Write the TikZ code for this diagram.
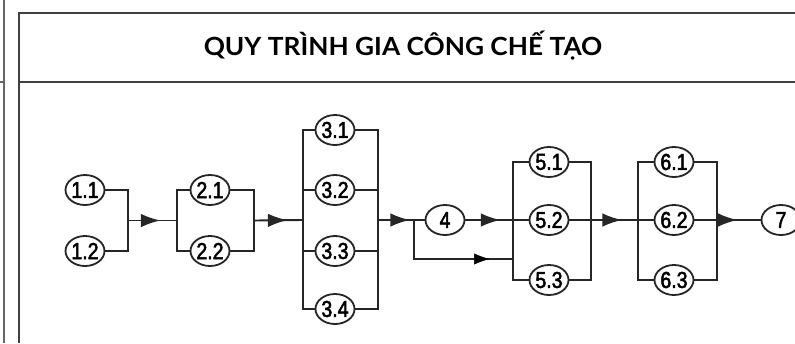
\documentclass[tikz,border=0pt]{standalone}
\usepackage{fontspec}
\setmainfont{Liberation Sans}
\newfontfamily\numfont[FakeBold=2.5]{Liberation Sans}
\newfontfamily\titlefont{Lato}
\usetikzlibrary{shapes.geometric,arrows.meta,decorations.markings}
\begin{document}
\begin{tikzpicture}[x=1pt,y=-1pt,
  conn/.style={line width=1.9pt,draw=black!85},
  frameline/.style={line width=2pt,draw=black!75},
  lab/.style={font=\numfont\fontsize{23}{23}\selectfont,xscale=0.85,inner sep=0pt},
  st/.style={ellipse,draw=black!85,line width=1.8pt,minimum width=39,minimum height=30,inner sep=0pt,label={[lab]center:#1}},
  mid/.style={postaction={decorate,line width=1pt,fill=black!90,draw=black!90},decoration={markings,mark=at position #1 with {\arrow{Latex[length=17pt,width=12pt]}}}}
]
\useasboundingbox (0,0) rectangle (795,343);
\begin{scope}
\clip (0,0) rectangle (795,343);
\fill[white] (0,0) rectangle (795,343);
% frame
\draw[line width=1.6pt,draw=black!60] (4,0) -- (4,343);
\draw[line width=1.6pt,draw=black!60] (0,82) -- (4,82);
\draw[frameline] (18.5,343) -- (18.5,13) -- (800,13);
\draw[frameline] (18.5,82) -- (800,82);
\node[font=\titlefont\bfseries\fontsize{25}{25}\selectfont,xscale=1.05,inner sep=0pt] (title) at (403,46) {QUY TRÌNH GIA CÔNG CHẾ TẠO};
% nodes
\node[st=1.1] (n11) at (85,190) {};
\node[st=1.2] (n12) at (85,251) {};
\node[st=2.1] (n21) at (210,190) {};
\node[st=2.2] (n22) at (210,251) {};
\node[st=3.1] (n31) at (335,130) {};
\node[st=3.2] (n32) at (335,190) {};
\node[st=3.3] (n33) at (335,251) {};
\node[st=3.4] (n34) at (335,309) {};
\node[st=4] (n4) at (445,220) {};
\node[st=5.1] (n51) at (549,162) {};
\node[st=5.2] (n52) at (549,220) {};
\node[st=5.3] (n53) at (549,280) {};
\node[st=6.1] (n61) at (674,162) {};
\node[st=6.2] (n62) at (674,220) {};
\node[st=6.3] (n63) at (674,280) {};
\node[st=7] (n7) at (781,220) {};
% bar coordinates
\coordinate (j1t) at (128,190); \coordinate (j1b) at (128,251); \coordinate (j1) at (128,220.5);
\coordinate (l2t) at (177,190); \coordinate (l2b) at (177,251); \coordinate (l2) at (177,220.5);
\coordinate (r2t) at (254,190); \coordinate (r2b) at (254,251); \coordinate (r2) at (254,220.5);
\coordinate (l3t) at (303,130); \coordinate (l3b) at (303,309); \coordinate (l3) at (303,220);
\coordinate (l32) at (303,190); \coordinate (l33) at (303,251);
\coordinate (r3t) at (378,130); \coordinate (r3b) at (378,309); \coordinate (r3) at (378,220);
\coordinate (r32) at (378,190); \coordinate (r33) at (378,251);
\coordinate (br) at (414,220); \coordinate (brd) at (414,259);
\coordinate (l5t) at (513,162); \coordinate (l5b) at (513,280); \coordinate (l5d) at (513,259);
\coordinate (r5t) at (591,162); \coordinate (r5b) at (591,280);
\coordinate (l6t) at (638,162); \coordinate (l6b) at (638,280);
\coordinate (r6t) at (717,162); \coordinate (r6b) at (717,280);
% group 1
\draw[conn] (n11) -- (j1t) -- (j1b) -- (n12);
\draw[conn,mid=0.62] (j1) -- (l2);
% group 2
\draw[conn] (n21) -- (l2t) -- (l2b) -- (n22);
\draw[conn] (n21) -- (r2t) -- (r2b) -- (n22);
\draw[conn,mid=0.64] (r2) -- (l3);
% group 3
\draw[conn] (n31) -- (l3t) -- (l3b) -- (n34);
\draw[conn] (n31) -- (r3t) -- (r3b) -- (n34);
\draw[conn] (l32) -- (n32) -- (r32);
\draw[conn] (l33) -- (n33) -- (r33);
\draw[conn,mid=0.64] (r3) -- (n4);
\draw[conn] (br) -- (brd) -- (l5d);
\path[mid=0.84] (br) -- (brd) -- (l5d);
\draw[conn,mid=0.52] (n4) -- (n52);
% group 5
\draw[conn] (n51) -- (l5t) -- (l5b) -- (n53);
\draw[conn] (n51) -- (r5t) -- (r5b) -- (n53);
\draw[conn,mid=0.6] (n52) -- (n62);
% group 6
\draw[conn] (n61) -- (l6t) -- (l6b) -- (n63);
\draw[conn] (n61) -- (r6t) -- (r6b) -- (n63);
\draw[conn,mid=0.62] (n62) -- (n7);
\end{scope}
\end{tikzpicture}
\end{document}
